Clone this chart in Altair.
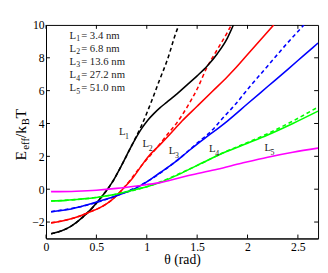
import altair as alt
import pandas as pd

# ---------------- data ----------------
curves = ["L1", "L2", "L3", "L4", "L5"]
colors = ["#000000", "#ff0000", "#0000ff", "#00ff00", "#ff00ff"]

l1_x = [0.05, 0.15, 0.25, 0.35, 0.45, 0.55, 0.61, 0.65, 0.75, 0.85, 0.95, 1.01, 1.07, 1.13, 1.2, 1.3, 1.4, 1.5, 1.6, 1.7, 1.8, 1.86]
l1_y = [-2.72, -2.55, -2.25, -1.78, -1.2, -0.48, 0.0, 0.35, 1.45, 2.65, 3.7, 4.2, 4.6, 4.95, 5.3, 5.8, 6.35, 6.9, 7.5, 8.25, 9.2, 10.0]
l1d_x = [0.05, 0.15, 0.25, 0.35, 0.45, 0.55, 0.61, 0.65, 0.75, 0.85, 0.95, 1.05, 1.13, 1.2, 1.3, 1.32]
l1d_y = [-2.72, -2.55, -2.25, -1.78, -1.2, -0.48, 0.0, 0.35, 1.45, 2.65, 3.9, 5.4, 6.7, 7.8, 9.7, 10.0]

l2_x = [0.05, 0.15, 0.25, 0.35, 0.45, 0.51, 0.6, 0.7, 0.76, 0.85, 0.95, 1.01, 1.13, 1.23, 1.35, 1.5, 1.65, 1.8, 1.87, 2.0, 2.13, 2.26]
l2_y = [-2.05, -1.95, -1.8, -1.6, -1.35, -1.2, -0.9, -0.4, 0.0, 0.6, 1.45, 1.95, 2.7, 3.35, 4.15, 5.05, 5.95, 6.85, 7.3, 8.2, 9.1, 10.0]
l2d_x = [0.05, 0.25, 0.45, 0.6, 0.76, 0.95, 1.13, 1.2, 1.3, 1.4, 1.5, 1.6, 1.7, 1.8, 1.84]
l2d_y = [-2.05, -1.8, -1.35, -0.9, 0.0, 1.45, 2.75, 3.3, 4.05, 5.0, 6.1, 7.45, 8.5, 9.55, 10.0]

l3_x = [0.05, 0.15, 0.25, 0.35, 0.51, 0.6, 0.7, 0.8, 0.87, 1.0, 1.13, 1.27, 1.4, 1.5, 1.62, 1.8, 2.0, 2.2, 2.4, 2.55, 2.7]
l3_y = [-1.37, -1.3, -1.2, -1.05, -0.77, -0.6, -0.4, -0.18, 0.0, 0.45, 1.0, 1.6, 2.25, 2.75, 3.3, 4.15, 5.2, 6.25, 7.3, 8.1, 8.9]
l3d_x = [0.05, 0.35, 0.7, 1.0, 1.27, 1.5, 1.65, 1.75, 1.87, 2.03, 2.2, 2.36, 2.5, 2.56]
l3d_y = [-1.37, -1.05, -0.4, 0.45, 1.6, 2.8, 3.6, 4.3, 5.1, 6.3, 7.5, 8.65, 9.6, 10.0]

l4_x = [0.05, 0.2, 0.35, 0.5, 0.65, 0.8, 0.9, 1.0, 1.13, 1.3, 1.45, 1.6, 1.78, 2.0, 2.2, 2.45, 2.7]
l4_y = [-0.72, -0.68, -0.6, -0.5, -0.35, -0.15, 0.0, 0.15, 0.4, 0.85, 1.3, 1.75, 2.26, 2.8, 3.3, 4.0, 4.75]
l4d_x = [0.05, 0.5, 1.0, 1.45, 1.78, 2.0, 2.2, 2.45, 2.7]
l4d_y = [-0.72, -0.5, 0.15, 1.3, 2.28, 2.84, 3.38, 4.15, 5.0]

l5_x = [0.05, 0.3, 0.5, 0.7, 0.9, 1.13, 1.3, 1.45, 1.7, 1.94, 2.2, 2.45, 2.7]
l5_y = [-0.15, -0.12, -0.06, 0.05, 0.2, 0.4, 0.65, 0.88, 1.22, 1.58, 1.95, 2.25, 2.5]

legend_names = ["L", "L", "L", "L", "L"]
legend_subs = ["1", "2", "3", "4", "5"]
legend_rest = ["= 3.4 nm", "= 6.8 nm", "= 13.6 nm", "= 27.2 nm", "= 51.0 nm"]

label_x = [0.756, 0.99, 1.25, 1.65, 2.2]
label_y = [3.45, 2.74, 2.32, 2.44, 2.5]

x_ticks = [0, 0.5, 1, 1.5, 2, 2.5]
y_ticks = [-2, 0, 2, 4, 6, 8, 10]

# ---------------- build tables ----------------
solid_sets = [(l1_x, l1_y), (l2_x, l2_y), (l3_x, l3_y), (l4_x, l4_y), (l5_x, l5_y)]
dashed_sets = [(l1d_x, l1d_y), (l2d_x, l2d_y), (l3d_x, l3d_y), (l4d_x, l4d_y)]

rows = []
for name, (xs_, ys_) in zip(curves, solid_sets):
    for i, (a, b) in enumerate(zip(xs_, ys_)):
        rows.append({"curve": name, "kind": "solid", "x": a, "y": b, "i": i})
for name, (xs_, ys_) in zip(curves, dashed_sets):
    for i, (a, b) in enumerate(zip(xs_, ys_)):
        rows.append({"curve": name, "kind": "dashed", "x": a, "y": b, "i": i})
df = pd.DataFrame(rows)

W, H = 279, 219
FONT = "Liberation Serif"

xs = alt.Scale(domain=[0, 2.7], nice=False, zero=False)
ys = alt.Scale(domain=[-3, 10], nice=False, zero=False)
cs = alt.Scale(domain=curves, range=colors)

x_axis = alt.Axis(values=x_ticks, format="~g", title="θ (rad)",
                  tickSize=0, labelPadding=3, titlePadding=1,
                  labelOverlap=False, labelFlush=False,
                  grid=False, domainColor="black")
y_axis = alt.Axis(values=y_ticks, format="d", title=None,
                  tickSize=0, labelPadding=2,
                  labelOverlap=False, labelFlush=False,
                  grid=False, domainColor="black")

def X(f):
    return alt.X(f, scale=xs, axis=x_axis)

def Y(f):
    return alt.Y(f, scale=ys, axis=y_axis)

base = alt.Chart(df)

dashed = base.transform_filter(alt.datum.kind == "dashed").mark_line(
    strokeWidth=1.6, strokeDash=[4, 3], interpolate="monotone", clip=True
).encode(
    x=X("x:Q"), y=Y("y:Q"),
    color=alt.Color("curve:N", scale=cs, legend=None),
    order="i:Q",
)

solid = base.transform_filter(alt.datum.kind == "solid").mark_line(
    strokeWidth=1.6, interpolate="monotone", clip=True
).encode(
    x=X("x:Q"), y=Y("y:Q"),
    color=alt.Color("curve:N", scale=cs, legend=None),
    order="i:Q",
)

# inward ticks on all four sides
xt = pd.DataFrame({"x": x_ticks})
yt = pd.DataFrame({"y": y_ticks[:-1]})
tick_top = alt.Chart(xt).mark_rule(color="black", strokeWidth=1).encode(
    x=X("x:Q"), y=alt.value(0), y2=alt.value(4))
tick_bot = alt.Chart(xt).mark_rule(color="black", strokeWidth=1).encode(
    x=X("x:Q"), y=alt.value(H - 4), y2=alt.value(H))
tick_left = alt.Chart(yt).mark_rule(color="black", strokeWidth=1).encode(
    y=Y("y:Q"), x=alt.value(0), x2=alt.value(4))
tick_right = alt.Chart(yt).mark_rule(color="black", strokeWidth=1).encode(
    y=Y("y:Q"), x=alt.value(W - 4), x2=alt.value(W))

# legend text block (top-left)
layers = []
lx0, ly0, lstep = 24, 11, 13.5
for k in range(5):
    yy = ly0 + k * lstep
    ld = pd.DataFrame({"a": [legend_names[k]], "b": [legend_subs[k]], "c": [legend_rest[k]]})
    layers.append(alt.Chart(ld).mark_text(font=FONT, fontSize=11, align="left", baseline="middle", color="#222").encode(
        x=alt.value(lx0), y=alt.value(yy), text="a:N"))
    layers.append(alt.Chart(ld).mark_text(font=FONT, fontSize=8, align="left", baseline="middle", color="#222").encode(
        x=alt.value(lx0 + 7), y=alt.value(yy + 3.5), text="b:N"))
    layers.append(alt.Chart(ld).mark_text(font=FONT, fontSize=11, align="left", baseline="middle", color="#222").encode(
        x=alt.value(lx0 + 12), y=alt.value(yy), text="c:N"))

# curve labels
lab = pd.DataFrame({"x": label_x, "y": label_y, "n": legend_names, "s": legend_subs})
lab_main = alt.Chart(lab).mark_text(font=FONT, fontSize=11, align="center", baseline="middle", color="#222").encode(
    x=X("x:Q"), y=Y("y:Q"), text="n:N")
lab_sub = alt.Chart(lab).mark_text(font=FONT, fontSize=8, align="center", baseline="middle", color="#222", dx=5, dy=5).encode(
    x=X("x:Q"), y=Y("y:Q"), text="s:N")

# y-axis title E_eff / k_B T built from pieces (rotated)
one = pd.DataFrame({"v": [0]})
def rot(txt, size, xpix, ypix):
    return alt.Chart(one).mark_text(font=FONT, fontSize=size, angle=270, align="left",
                                    baseline="middle", color="black", text=txt).encode(
        x=alt.value(xpix), y=alt.value(ypix))
yt_parts = [
    rot("E", 16, -26, 139),
    rot("eff", 11, -20, 128),
    rot("/k", 16, -26, 116),
    rot("B", 11, -20, 103),
    rot("T", 16, -26, 96),
]

chart = alt.layer(
    dashed, solid, tick_top, tick_bot, tick_left, tick_right, lab_main, lab_sub, *layers, *yt_parts
).properties(
    width=W, height=H,
    autosize=alt.AutoSizeParams(type="none"),
    padding={"left": 39, "top": 14, "right": 2, "bottom": 30},
).configure_view(
    stroke="black", strokeWidth=1
).configure_axis(
    labelFont=FONT, titleFont=FONT, labelFontSize=12, titleFontSize=14,
    titleFontWeight="normal", labelColor="black", titleColor="black", domainWidth=1
)

chart.save("out.html", embed_options={"renderer": "svg", "actions": False})
